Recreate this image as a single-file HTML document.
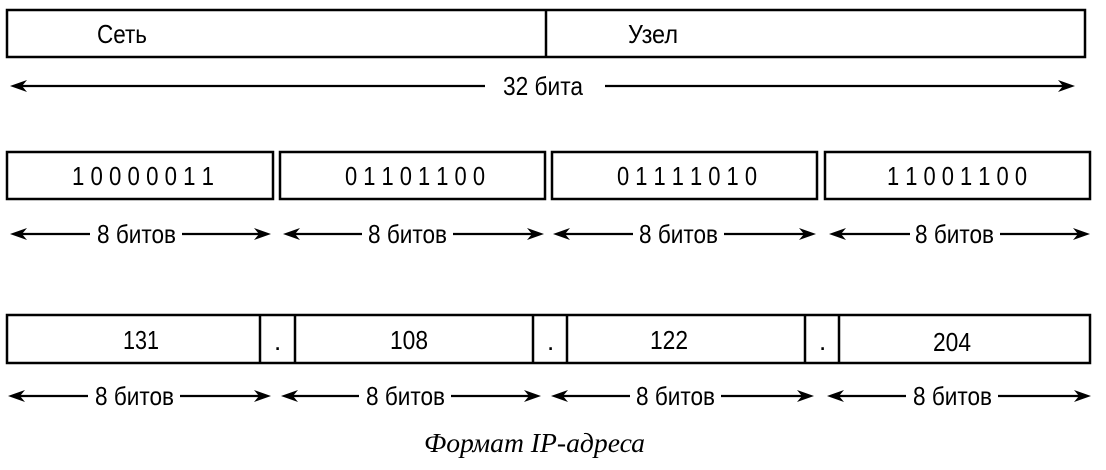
<!DOCTYPE html>
<html><head><meta charset="utf-8"><style>
html,body{margin:0;padding:0;background:#fff;}
svg{display:block;}
text{font-family:"Liberation Sans","DejaVu Sans",sans-serif;fill:#000;}
.c{font-family:"Liberation Serif",serif;font-style:italic;}
</style></head><body>
<svg width="1106" height="470" viewBox="0 0 1106 470" xmlns="http://www.w3.org/2000/svg">
<g fill="none" stroke="#000" stroke-width="2.5">
<rect x="7" y="10" width="1078" height="47"/>
<line x1="546" y1="10" x2="546" y2="57"/>
<rect x="7" y="152" width="266" height="47"/>
<rect x="280" y="152" width="265" height="47"/>
<rect x="552" y="152" width="265" height="47"/>
<rect x="825" y="152" width="265" height="47"/>
<rect x="7" y="315" width="1083" height="48"/>
<line x1="260" y1="315" x2="260" y2="363"/>
<line x1="295" y1="315" x2="295" y2="363"/>
<line x1="533" y1="315" x2="533" y2="363"/>
<line x1="567" y1="315" x2="567" y2="363"/>
<line x1="805" y1="315" x2="805" y2="363"/>
<line x1="839" y1="315" x2="839" y2="363"/>
</g>
<g stroke="#000" stroke-width="2.2">
<line x1="14" y1="86" x2="485" y2="86"/><line x1="605" y1="86" x2="1068" y2="86"/>
<line x1="14" y1="234" x2="90" y2="234"/><line x1="182" y1="234" x2="265" y2="234"/>
<line x1="287" y1="234" x2="362" y2="234"/><line x1="453" y1="234" x2="538" y2="234"/>
<line x1="557" y1="234" x2="633" y2="234"/><line x1="724" y1="234" x2="810" y2="234"/>
<line x1="833" y1="234" x2="910" y2="234"/><line x1="1000" y1="234" x2="1085" y2="234"/>
<line x1="12" y1="396" x2="88" y2="396"/><line x1="180" y1="396" x2="265" y2="396"/>
<line x1="285" y1="396" x2="359" y2="396"/><line x1="451" y1="396" x2="535" y2="396"/>
<line x1="555" y1="396" x2="630" y2="396"/><line x1="721" y1="396" x2="808" y2="396"/>
<line x1="831" y1="396" x2="906" y2="396"/><line x1="998" y1="396" x2="1085" y2="396"/>
</g>
<g fill="#000">
<polygon points="10,86 27,80 22,86 27,92"/><polygon points="1075,86 1058,80 1063,86 1058,92"/>
<polygon points="10,234 27,228 22,234 27,240"/><polygon points="271,234 254,228 259,234 254,240"/>
<polygon points="283,234 300,228 295,234 300,240"/><polygon points="544,234 527,228 532,234 527,240"/>
<polygon points="553,234 570,228 565,234 570,240"/><polygon points="816,234 799,228 804,234 799,240"/>
<polygon points="829,234 846,228 841,234 846,240"/><polygon points="1090,234 1073,228 1078,234 1073,240"/>
<polygon points="8,396 25,390 20,396 25,402"/><polygon points="271,396 254,390 259,396 254,402"/>
<polygon points="281,396 298,390 293,396 298,402"/><polygon points="541,396 524,390 529,396 524,402"/>
<polygon points="551,396 568,390 563,396 568,402"/><polygon points="814,396 797,390 802,396 797,402"/>
<polygon points="827,396 844,390 839,396 844,402"/><polygon points="1091,396 1074,390 1079,396 1074,402"/>
</g>
<g font-size="26">
<text x="97" y="43" textLength="50" lengthAdjust="spacingAndGlyphs">Сеть</text>
<text x="628" y="43" textLength="50" lengthAdjust="spacingAndGlyphs">Узел</text>
<text x="503" y="95" textLength="80" lengthAdjust="spacingAndGlyphs">32 бита</text>
<text x="72" y="185" textLength="142" lengthAdjust="spacingAndGlyphs">1 0 0 0 0 0 1 1</text>
<text x="345" y="185" textLength="140" lengthAdjust="spacingAndGlyphs">0 1 1 0 1 1 0 0</text>
<text x="617" y="185" textLength="140" lengthAdjust="spacingAndGlyphs">0 1 1 1 1 0 1 0</text>
<text x="887" y="185" textLength="140" lengthAdjust="spacingAndGlyphs">1 1 0 0 1 1 0 0</text>
<text x="97" y="243" textLength="79" lengthAdjust="spacingAndGlyphs">8 битов</text>
<text x="368" y="243" textLength="79" lengthAdjust="spacingAndGlyphs">8 битов</text>
<text x="639" y="243" textLength="79" lengthAdjust="spacingAndGlyphs">8 битов</text>
<text x="915" y="243" textLength="79" lengthAdjust="spacingAndGlyphs">8 битов</text>
<text x="123" y="349" textLength="36" lengthAdjust="spacingAndGlyphs">131</text>
<text x="390" y="349" textLength="38" lengthAdjust="spacingAndGlyphs">108</text>
<text x="650" y="349" textLength="38" lengthAdjust="spacingAndGlyphs">122</text>
<text x="933" y="351" textLength="38" lengthAdjust="spacingAndGlyphs">204</text>
<text x="274" y="350">.</text>
<text x="547" y="350">.</text>
<text x="819" y="350">.</text>
<text x="95" y="405" textLength="79" lengthAdjust="spacingAndGlyphs">8 битов</text>
<text x="366" y="405" textLength="79" lengthAdjust="spacingAndGlyphs">8 битов</text>
<text x="636" y="405" textLength="79" lengthAdjust="spacingAndGlyphs">8 битов</text>
<text x="913" y="405" textLength="79" lengthAdjust="spacingAndGlyphs">8 битов</text>
</g>
<text class="c" x="424" y="452" font-size="27" textLength="221" lengthAdjust="spacingAndGlyphs">Формат IP-адреса</text>
</svg>
</body></html>
